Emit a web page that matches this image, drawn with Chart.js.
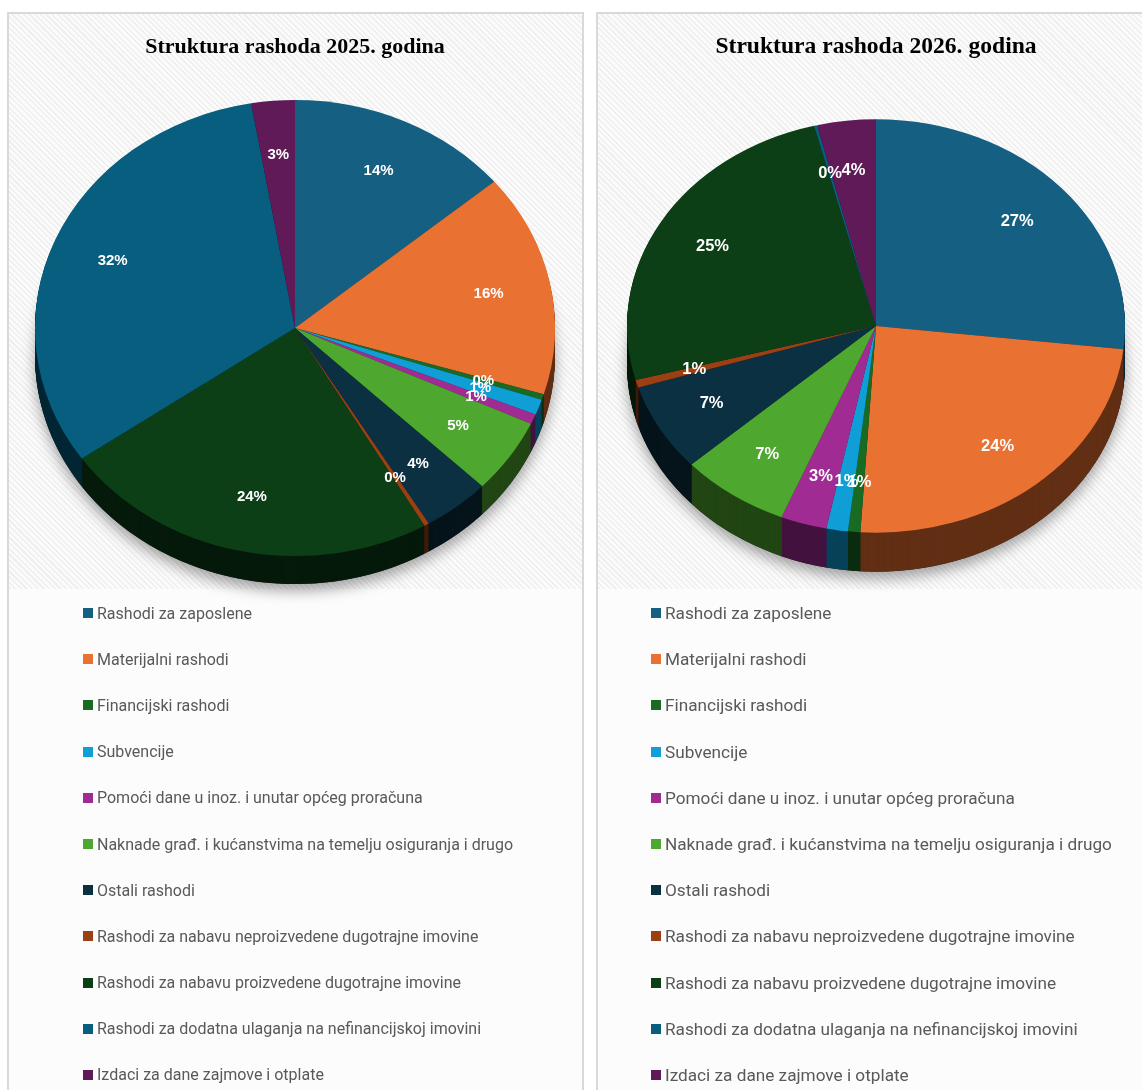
<!DOCTYPE html>
<html>
<head>
<meta charset="utf-8">
<script src="https://cdn.jsdelivr.net/npm/chart.js@4.4.1/dist/chart.umd.min.js"></script>
<style>
    body { margin: 0; width: 1142px; height: 1090px; overflow: hidden; background: #fff; position: relative; }
    .panel { position: absolute; top: 12px; height: 1100px; border: 2px solid #d9d9d9; box-sizing: border-box; background: #fcfcfc; }
    .panel .hatch { position: absolute; left: 0; top: 0; right: 0; height: 575px;
        background: repeating-linear-gradient(45deg, #efefef 0 1.5px, #fbfbfb 1.5px 4px); }
    #p1 { left: 7px; width: 577px; }
    #p2 { left: 596px; width: 560px; }
    canvas { position: absolute; }
    #c1 { left: 9px; top: 13px; }
    #c2 { left: 604px; top: 13px; }
    .legend { position: absolute; top: 590px; margin: 0; padding: 0; list-style: none; color: #595959; font-family: Roboto, sans-serif; }
    .legend li { height: 46.2px; display: flex; align-items: center; white-space: nowrap; }
    .legend .box { width: 10px; height: 10px; margin-right: 4px; flex: none; }
    #l1 { left: 83px; font-size: 16px; }
    #l2 { left: 651px; font-size: 17.2px; }
</style>
</head>
<body>
<div class="panel" id="p1"><div class="hatch"></div></div>
<div class="panel" id="p2"><div class="hatch"></div></div>
<canvas id="c1" width="572" height="600"></canvas>
<canvas id="c2" width="544" height="600"></canvas>
<ul class="legend" id="l1"></ul>
<ul class="legend" id="l2"></ul>
<script>
// Kategorije rashoda
const categories = [
    'Rashodi za zaposlene',
    'Materijalni rashodi',
    'Financijski rashodi',
    'Subvencije',
    'Pomoći dane u inoz. i unutar općeg proračuna',
    'Naknade građ. i kućanstvima na temelju osiguranja i drugo',
    'Ostali rashodi',
    'Rashodi za nabavu neproizvedene dugotrajne imovine',
    'Rashodi za nabavu proizvedene dugotrajne imovine',
    'Rashodi za dodatna ulaganja na nefinancijskoj imovini',
    'Izdaci za dane zajmove i otplate'
];
// Boje kategorija
const sliceColors = ['#156082', '#E97132', '#196B24', '#0F9ED5', '#A02B93', '#4EA72E',
    '#0B3041', '#9C3F12', '#0D3F17', '#075E7E', '#5F1A57'];
// Udjeli (%) procijenjeni sa slike
const shares2025 = [13.9, 15.8, 0.4, 1.1, 0.7, 5.3, 4.2, 0.3, 23.6, 32.0, 2.7];
const shares2026 = [26.8, 24.2, 0.8, 1.4, 3.0, 7.1, 6.9, 0.6, 25.2, 0.2, 3.8];

// Potamni boju za bočnu stranu
function shade(hex, f) {
    const n = parseInt(hex.slice(1), 16);
    const r = Math.round(((n >> 16) & 255) * f);
    const g = Math.round(((n >> 8) & 255) * f);
    const b = Math.round((n & 255) * f);
    return `rgb(${r},${g},${b})`;
}

// Plugin: spljošteni "3D" kolač + postotne oznake
const pie3d = {
    id: 'pie3d',
    beforeDatasetsDraw(chart, args, opts) {
        const ctx = chart.ctx;
        const arcs = chart.getDatasetMeta(0).data;
        const cx = arcs[0].x, cy = arcs[0].y, k = opts.squash;
        ctx.save();
        ctx.translate(cx, cy);
        ctx.scale(1, k);
        ctx.translate(-cx, -cy);
        const R = arcs[0].outerRadius;
        // sjena ispod kolača
        ctx.save();
        ctx.shadowColor = 'rgba(0,0,0,0.35)';
        ctx.shadowBlur = 14;
        ctx.shadowOffsetY = 7;
        ctx.beginPath();
        ctx.arc(cx, cy + opts.depth / k, R, 0, Math.PI * 2);
        ctx.fillStyle = '#222';
        ctx.fill();
        ctx.restore();
        // bočna strana
        for (let d = opts.depth; d >= 1; d--) {
            arcs.forEach((a, i) => {
                ctx.beginPath();
                ctx.moveTo(a.x, a.y + d / k);
                ctx.arc(a.x, a.y + d / k, a.outerRadius, a.startAngle, a.endAngle);
                ctx.closePath();
                ctx.fillStyle = shade(sliceColors[i], 0.42);
                ctx.fill();
            });
        }
    },
    afterDatasetsDraw(chart, args, opts) {
        const ctx = chart.ctx;
        ctx.restore();
        const arcs = chart.getDatasetMeta(0).data;
        const values = chart.data.datasets[0].data;
        const total = values.reduce((s, v) => s + v, 0);
        ctx.save();
        ctx.font = `bold ${opts.fontSize}px "Liberation Sans", Arial, sans-serif`;
        ctx.fillStyle = '#fff';
        ctx.textAlign = 'center';
        ctx.textBaseline = 'middle';
        arcs.forEach((a, i) => {
            const mid = (a.startAngle + a.endAngle) / 2;
            const r = a.outerRadius * opts.labelRadius;
            const x = a.x + Math.cos(mid) * r;
            const y = a.y + Math.sin(mid) * r * opts.squash;
            ctx.fillText(Math.round(values[i] / total * 100) + '%', x, y);
        });
        ctx.restore();
    }
};

function makePie(id, title, shares, radius, padding, squash, depth, titleSize, labelSize) {
    return new Chart(document.getElementById(id), {
        type: 'pie',
        data: {
            labels: categories,
            datasets: [{
                data: shares,
                backgroundColor: sliceColors,
                borderWidth: 0,
                radius: radius
            }]
        },
        options: {
            responsive: false,
            animation: false,
            events: [],
            layout: { padding: padding },
            plugins: {
                legend: { display: false },
                tooltip: { enabled: false },
                title: {
                    display: true,
                    text: title,
                    color: '#000',
                    font: { family: '"Liberation Serif", "Times New Roman", serif', size: titleSize, weight: 'bold' },
                    padding: { top: 34 - titleSize * 0.6, bottom: 47 - 34 - titleSize * 0.6 }
                },
                pie3d: { squash: squash, depth: depth, labelRadius: 0.76, fontSize: labelSize }
            }
        },
        plugins: [pie3d]
    });
}

makePie('c1', 'Struktura rashoda 2025. godina', shares2025, 260,
    { left: 26, right: 26, top: 0, bottom: 17 }, 0.877, 28, 22, 15);
makePie('c2', 'Struktura rashoda 2026. godina', shares2026, 249,
    { left: 23, right: 23, top: 0, bottom: 21 }, 0.83, 39, 23.6, 16.5);

// HTML legenda
['l1', 'l2'].forEach(id => {
    const ul = document.getElementById(id);
    categories.forEach((name, i) => {
        const li = document.createElement('li');
        const box = document.createElement('span');
        box.className = 'box';
        box.style.background = sliceColors[i];
        li.appendChild(box);
        li.appendChild(document.createTextNode(name));
        ul.appendChild(li);
    });
});
</script>
</body>
</html>
